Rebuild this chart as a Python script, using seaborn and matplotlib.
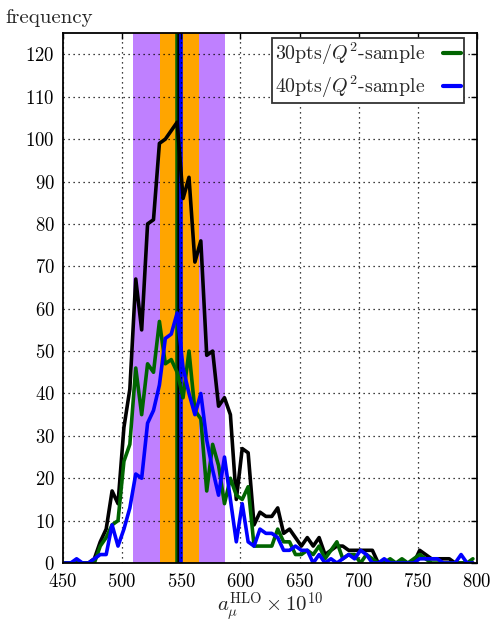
import numpy as np
import pandas as pd
import seaborn as sns
import matplotlib
matplotlib.use("Agg")
import matplotlib.pyplot as plt

# bin positions (a_mu^HLO x 10^10)
bins = [451.5, 456.5, 461.5, 466.5, 471.5, 476.5, 481.5, 486.5, 491.5, 496.5,
        501.5, 506.5, 511.5, 516.5, 521.5, 526.5, 531.5, 536.5, 541.5, 546.5,
        551.5, 556.5, 561.5, 566.5, 571.5, 576.5, 581.5, 586.5, 591.5, 596.5,
        601.5, 606.5, 611.5, 616.5, 621.5, 626.5, 631.5, 636.5, 641.5, 646.5,
        651.5, 656.5, 661.5, 666.5, 671.5, 676.5, 681.5, 686.5, 691.5, 696.5,
        701.5, 706.5, 711.5, 716.5, 721.5, 726.5, 731.5, 736.5, 741.5, 746.5,
        751.5, 756.5, 761.5, 766.5, 771.5, 776.5, 781.5, 786.5, 791.5, 796.5]

freq_all = [0, 0, 0, 0, 0, 1, 5, 8, 17, 14,
            32, 41, 67, 55, 80, 81, 99, 100, 102, 104,
            86, 91, 71, 76, 49, 50, 37, 39, 35, 15,
            27, 26, 9, 12, 11, 11, 13, 7, 8, 6,
            4, 6, 4, 6, 2, 3, 4, 4, 3, 3,
            3, 3, 3, 0, 0, 0, 0, 0, 0, 0,
            3, 2, 1, 1, 1, 1, 0, 0, 0, 0]

freq_30 = [0, 0, 0, 0, 0, 0, 4, 6, 9, 10,
           24, 28, 46, 35, 47, 45, 57, 47, 48, 45,
           39, 50, 36, 34, 17, 28, 23, 14, 20, 16,
           15, 18, 4, 4, 4, 4, 8, 5, 5, 2,
           2, 3, 2, 4, 1, 3, 5, 1, 2, 2,
           0, 2, 1, 0, 0, 1, 0, 1, 0, 1,
           2, 1, 0, 0, 0, 0, 0, 0, 0, 1]

freq_40 = [0, 0, 1, 0, 0, 1, 2, 2, 9, 4,
           8, 13, 21, 20, 33, 36, 42, 53, 54, 59,
           46, 40, 35, 40, 29, 22, 16, 25, 15, 5,
           14, 5, 4, 8, 7, 7, 6, 3, 3, 4,
           3, 3, 0, 2, 0, 1, 0, 1, 2, 1,
           3, 2, 0, 0, 1, 0, 0, 0, 0, 0,
           1, 1, 1, 1, 0, 0, 0, 2, 0, 0]

labels = ["30pts/$Q^2$-sample", "40pts/$Q^2$-sample"]

# error bands and central values
band_outer = (509.1, 587.3)
band_inner = (531.6, 565.3)
centers = [545.6, 547.3, 550.0]

sns.set_style("white")
plt.rcParams["font.family"] = ["cmr10", "DejaVu Serif"]
plt.rcParams["mathtext.fontset"] = "cm"
plt.rcParams["axes.formatter.use_mathtext"] = True

fig = plt.figure(figsize=(4.96, 6.26), dpi=100)
ax = fig.add_axes([0.127, 0.1006, 0.8348, 0.8464])

ax.axvspan(*band_outer, color="#bf80ff", lw=0, zorder=0.5)
ax.axvspan(*band_inner, color="#ffa500", lw=0, zorder=0.6)

ax.axvline(centers[0], color="#006400", lw=1.8, zorder=0.8)
ax.axvline(centers[1], color="black", lw=1.8, zorder=0.8)
ax.axvline(centers[2], color="#0000ff", lw=2.6, zorder=0.8)

df = pd.DataFrame({"x": bins, "all": freq_all, "s30": freq_30, "s40": freq_40})
sns.lineplot(data=df, x="x", y="all", color="black", lw=2.6, ax=ax,
             label="_nolegend_", zorder=3)
sns.lineplot(data=df, x="x", y="s30", color="#006400", lw=2.6, ax=ax,
             label=labels[0], zorder=4)
sns.lineplot(data=df, x="x", y="s40", color="#0000ff", lw=2.6, ax=ax,
             label=labels[1], zorder=5)

ax.set_xlim(450, 800)
ax.set_ylim(0, 125)
ax.set_xticks(range(450, 801, 50))
ax.set_yticks(range(0, 121, 10))
ax.tick_params(axis="both", labelsize=13.5, direction="in", length=4,
               width=1, top=True, right=True, colors="black")
ax.tick_params(axis="x", pad=7)
ax.tick_params(axis="y", pad=6)
ax.grid(True, linestyle=(0, (1, 3)), color="black", lw=0.9)
ax.set_axisbelow(False)
for sp in ax.spines.values():
    sp.set_color("black")
    sp.set_linewidth(1.3)
    sp.set_zorder(6)

ax.set_xlabel(r"$a_\mu^{\rm HLO} \times 10^{10}$", fontsize=15, labelpad=0)
ax.set_ylabel("")
fig.text(0.01, 0.963, "frequency", fontsize=15, ha="left", va="baseline")

leg = ax.legend(loc="upper right", bbox_to_anchor=(0.969, 0.991),
                markerfirst=False, fancybox=False,
                edgecolor="#333333", framealpha=1, fontsize=14.3,
                handlelength=0.9, handletextpad=0.9, borderaxespad=0.0,
                borderpad=0.15, labelspacing=0.3)
leg.get_frame().set_linewidth(1.3)
leg.set_zorder(10)
for line in leg.get_lines():
    line.set_linewidth(3.0)

fig.savefig("out.png", dpi=100)
